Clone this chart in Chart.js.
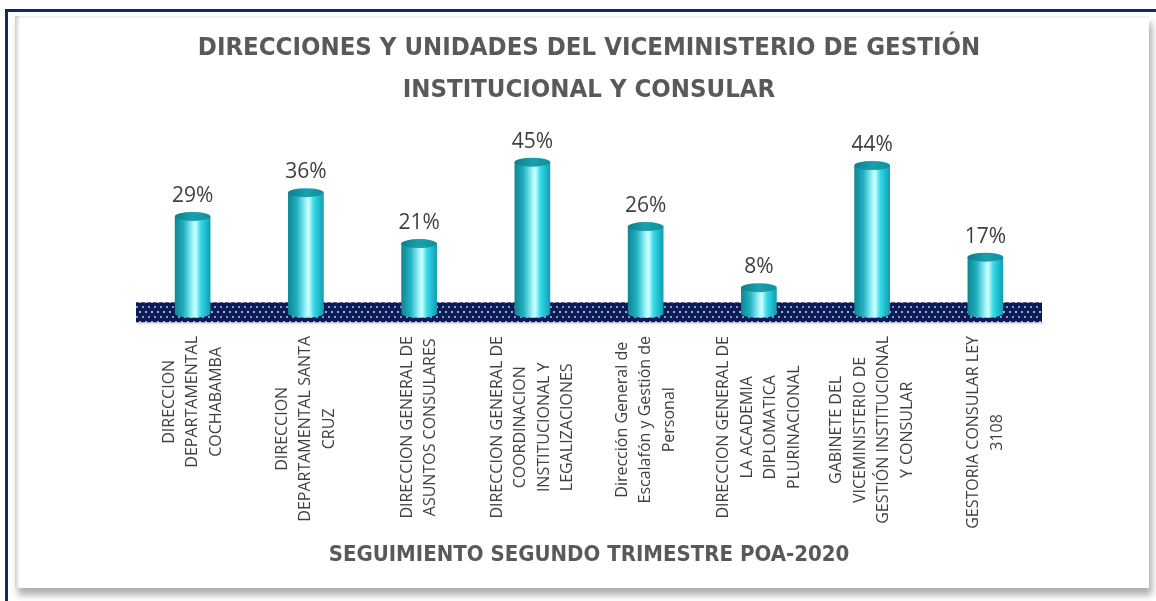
<!DOCTYPE html>
<html>
<head>
<meta charset="utf-8">
<script src="https://cdn.jsdelivr.net/npm/chart.js@4.4.1/dist/chart.umd.min.js"></script>
<style>
    body { margin: 0; background: #ffffff; }
    #wrap { position: relative; width: 1156px; height: 601px; overflow: hidden; }
    #frame {
        position: absolute; left: 5px; top: 9px; width: 1160px; height: 600px;
        border-top: 3px solid #0c2b6b; border-left: 3px solid #0c2b6b;
    }
    #panel {
        position: absolute; left: 15px; top: 16px; width: 1134px; height: 572px;
        background: #ffffff;
        box-shadow: inset 5px 0 4px -3px rgba(0,0,0,0.22), inset 0 3px 3px -2px rgba(0,0,0,0.10),
                    3px 7px 7px rgba(0,0,0,0.32);
    }
    #chart { position: absolute; left: 0; top: 0; }
</style>
</head>
<body>
<div id="wrap">
    <div id="frame"></div>
    <div id="panel"></div>
    <canvas id="chart" width="1156" height="601"></canvas>
</div>
<script>
const titleLines = ['DIRECCIONES Y UNIDADES DEL VICEMINISTERIO DE GESTIÓN', 'INSTITUCIONAL Y CONSULAR'];
const axisTitle = 'SEGUIMIENTO SEGUNDO TRIMESTRE POA-2020';

const categories = [
    ['DIRECCION', 'DEPARTAMENTAL', 'COCHABAMBA'],
    ['DIRECCION', 'DEPARTAMENTAL SANTA', 'CRUZ'],
    ['DIRECCION GENERAL DE', 'ASUNTOS CONSULARES'],
    ['DIRECCION GENERAL DE', 'COORDINACION', 'INSTITUCIONAL Y', 'LEGALIZACIONES'],
    ['Dirección General de', 'Escalafón y Gestión de', 'Personal'],
    ['DIRECCION GENERAL DE', 'LA ACADEMIA', 'DIPLOMATICA', 'PLURINACIONAL'],
    ['GABINETE DEL', 'VICEMINISTERIO DE', 'GESTIÓN INSTITUCIONAL', 'Y CONSULAR'],
    ['GESTORIA CONSULAR LEY', '3108'],
];
const percentages = [29, 36, 21, 45, 26, 8, 44, 17];

const TEXT_GRAY = '#404040';
const TITLE_GRAY = '#595959';
const NARROW = '"DejaVu Sans Condensed", "Liberation Sans Narrow", sans-serif';
const LABEL_FONT = '16px "Open Sans"';
const LABEL_TOP = 336;
const LINE_GAP = 23.5;

function makeFloorPattern(ctx) {
    // navy floor with small light dots, staggered rows
    const c = document.createElement('canvas');
    c.width = 12;
    c.height = 10;
    const p = c.getContext('2d');
    p.fillStyle = '#0b1b58';
    p.fillRect(0, 0, 12, 10);
    p.fillStyle = '#a7b1cc';
    p.fillRect(1, 1, 2, 2);
    p.fillRect(7, 1, 2, 2);
    p.fillStyle = '#8f9abb';
    p.fillRect(4, 6, 2, 2);
    p.fillRect(10, 6, 2, 2);
    return ctx.createPattern(c, 'repeat');
}

function drawCylinder(ctx, x, top, base, w) {
    const rx = w / 2;
    const ry = 4.5;
    const left = x - rx;
    const right = x + rx;
    const topC = top + ry;
    const botC = base + 3;

    const body = ctx.createLinearGradient(left, 0, right, 0);
    body.addColorStop(0, '#0f8593');
    body.addColorStop(0.25, '#1fb0bf');
    body.addColorStop(0.5, '#9ff5fb');
    body.addColorStop(0.58, '#d2ffff');
    body.addColorStop(0.72, '#35dbea');
    body.addColorStop(1, '#0f9db0');

    ctx.beginPath();
    ctx.moveTo(left, topC);
    ctx.lineTo(left, botC);
    ctx.ellipse(x, botC, rx, ry, 0, Math.PI, 0, true);
    ctx.lineTo(right, topC);
    ctx.closePath();
    ctx.fillStyle = body;
    ctx.fill();

    const cap = ctx.createLinearGradient(left, 0, right, 0);
    cap.addColorStop(0, '#0e7e8b');
    cap.addColorStop(0.5, '#19a0ae');
    cap.addColorStop(1, '#11909e');
    ctx.beginPath();
    ctx.ellipse(x, topC, rx, ry, 0, 0, Math.PI * 2);
    ctx.fillStyle = cap;
    ctx.fill();
}

const floorPlugin = {
    id: 'floor',
    beforeDatasetsDraw(chart) {
        const ctx = chart.ctx;
        const area = chart.chartArea;
        const zero = chart.scales.y.getPixelForValue(0);
        ctx.save();
        ctx.fillStyle = 'rgba(0,0,0,0.12)';
        ctx.fillRect(area.left + 1, zero + 12, area.right - area.left, 2);
        ctx.fillStyle = makeFloorPattern(ctx);
        ctx.fillRect(area.left, zero - 8, area.right - area.left, 20);
        ctx.restore();
    }
};

const cylinderPlugin = {
    id: 'cylinders',
    afterDatasetsDraw(chart) {
        const ctx = chart.ctx;
        const meta = chart.getDatasetMeta(0);
        ctx.save();
        meta.data.forEach((bar, i) => {
            drawCylinder(ctx, bar.x, bar.y, bar.base, bar.width);
            ctx.font = '21px "Open Sans"';
            ctx.fillStyle = TEXT_GRAY;
            ctx.textAlign = 'center';
            ctx.textBaseline = 'alphabetic';
            ctx.fillText(percentages[i] + '%', bar.x, bar.y - 10);
        });
        ctx.restore();
    }
};

const categoryLabelPlugin = {
    id: 'categoryLabels',
    afterDraw(chart) {
        const ctx = chart.ctx;
        const xs = chart.scales.x;
        ctx.save();
        ctx.font = LABEL_FONT;
        ctx.fillStyle = TEXT_GRAY;
        ctx.textAlign = 'center';
        ctx.textBaseline = 'middle';
        categories.forEach((lines, i) => {
            const cx = xs.getPixelForValue(i);
            const widest = Math.max(...lines.map((l) => ctx.measureText(l).width));
            const cy = LABEL_TOP + widest / 2;
            lines.forEach((line, j) => {
                const lx = cx + (j - (lines.length - 1) / 2) * LINE_GAP;
                ctx.save();
                ctx.translate(lx, cy);
                ctx.rotate(-Math.PI / 2);
                ctx.fillText(line, 0, 0);
                ctx.restore();
            });
        });
        ctx.restore();
    }
};

new Chart(document.getElementById('chart'), {
    type: 'bar',
    data: {
        labels: categories,
        datasets: [{
            data: percentages,
            backgroundColor: 'rgba(0,0,0,0)',
            borderWidth: 0,
            categoryPercentage: 1,
            barPercentage: 0.315
        }]
    },
    options: {
        responsive: false,
        animation: false,
        layout: {
            padding: { left: 136, right: 114, top: 0, bottom: 32.6 }
        },
        plugins: {
            legend: { display: false },
            tooltip: { enabled: false },
            title: {
                display: true,
                text: titleLines,
                color: TITLE_GRAY,
                font: { family: NARROW, size: 25.5, weight: 'bold', lineHeight: 42 / 25.5 },
                padding: { top: 27, bottom: 9 }
            }
        },
        scales: {
            x: {
                grid: { display: false, drawTicks: false },
                border: { display: false },
                ticks: { display: false },
                title: {
                    display: true,
                    text: axisTitle,
                    color: TITLE_GRAY,
                    font: { family: NARROW, size: 22, weight: 'bold', lineHeight: 1.2 },
                    padding: { top: 220, bottom: 0 }
                }
            },
            y: {
                display: false,
                min: -3.45,
                max: 56.1
            }
        }
    },
    plugins: [floorPlugin, cylinderPlugin, categoryLabelPlugin]
});
</script>
</body>
</html>
